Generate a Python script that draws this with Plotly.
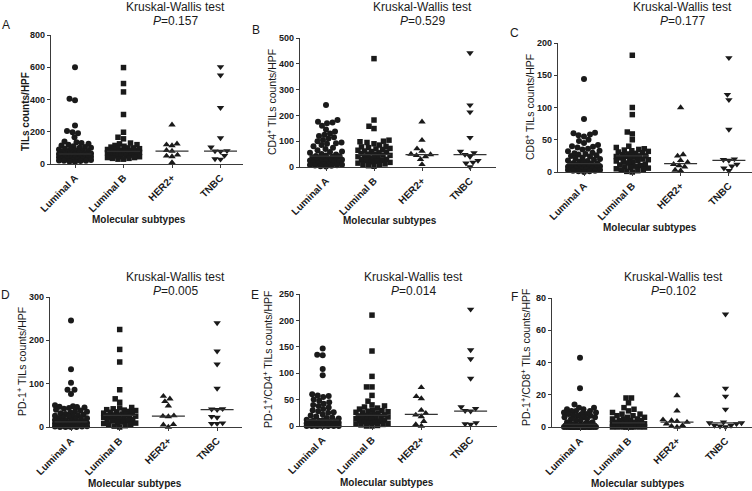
import numpy as np
import plotly.graph_objects as go

W, H = 752, 491
FONT = "Liberation Sans, Arial, sans-serif"

categories = ["Luminal A", "Luminal B", "HER2+", "TNBC"]
symbols = ["circle", "square", "triangle-up", "triangle-down"]
marker_sizes = [6, 5.5, 6.5, 6.5]

# ---------------- Panel A: TILs ----------------
A_luma = [600, 405, 395, 239, 204, 197, 191, 166, 139, 135, 130, 125, 120, 115, 110, 105, 100, 100, 95, 90,
          90, 85, 80, 80, 75, 75, 70, 70, 65, 65, 62, 60, 60, 58, 55, 55, 52, 50, 50, 48,
          45, 45, 42, 40, 40, 38, 35, 35, 32, 30, 30, 28, 25, 25, 22, 20, 20, 18, 15, 12]
A_lumb = [598, 499, 447, 307, 197, 166, 156, 130, 125, 120, 115, 110, 105, 100, 100, 95, 95, 90, 90, 85,
          85, 82, 80, 80, 78, 75, 75, 72, 70, 70, 65, 65, 60, 60, 55, 55, 50, 50, 45, 45, 40, 40, 35, 35, 30, 30]
A_her2 = [243, 125, 120, 114, 85, 80, 56, 50, 46, 10]
A_tnbc = [603, 551, 349, 162, 104, 82, 80, 78, 52, 31, 29]
A_med = [62, 79, 80, 80]

# ---------------- Panel B: CD4+ ----------------
B_luma = [240, 182, 175, 172, 170, 160, 145, 138, 130, 125, 120, 115, 110, 105, 100, 95, 92, 90, 85, 80,
          75, 70, 65, 60, 58, 55, 50, 48, 45, 43, 42, 40, 38, 36, 35, 32, 30, 28, 27, 25,
          24, 22, 20, 18, 16, 15, 14, 12, 10, 9, 8, 7, 6, 5, 3, 2]
B_lumb = [420, 182, 158, 149, 104, 100, 98, 95, 90, 85, 80, 78, 75, 72, 70, 68, 65, 62, 60, 58,
          55, 52, 50, 48, 46, 45, 42, 40, 38, 35, 32, 30, 28, 26, 25, 22, 20, 18, 15, 12, 10, 8, 5, 3]
B_her2 = [175, 104, 71, 62, 50, 48, 45, 40, 30, 10]
B_tnbc = [442, 240, 213, 114, 61, 55, 48, 40, 25, 18, 15, 0]
B_med = [42, 48, 48, 48]

# ---------------- Panel C: CD8+ ----------------
C_luma = [144, 82, 61, 60, 58, 57, 55, 50, 48, 45, 42, 40, 39, 38, 36, 35, 33, 32, 30, 29,
          28, 27, 26, 25, 24, 22, 21, 20, 19, 18, 17, 16, 15, 14, 13, 13, 12, 12, 11, 10,
          10, 9, 9, 8, 8, 7, 7, 6, 6, 5, 5, 4, 4, 3, 3, 2, 2, 1, 1, 0]
C_lumb = [181, 100, 89, 62, 59, 50, 40, 38, 36, 35, 34, 33, 32, 31, 30, 29, 28, 27, 26, 25,
          25, 24, 24, 23, 22, 21, 20, 19, 18, 17, 16, 15, 14, 12, 11, 10, 9, 8, 7, 6, 5, 4, 3, 2, 1, 0]
C_her2 = [100, 27, 25, 18, 15, 12, 10, 8, 3, 2]
C_tnbc = [177, 120, 112, 66, 20, 19, 18, 12, 9, 6, 2]
C_med = [13, 25, 13, 18]

# ---------------- Panel D: PD-1+ ----------------
D_luma = [246, 133, 102, 86, 86, 76, 50, 48, 47, 46, 45, 44, 42, 40, 38, 36, 35, 33, 32, 30,
          28, 27, 26, 25, 24, 22, 21, 20, 19, 18, 16, 15, 14, 13, 12, 12, 11, 10, 10, 9,
          9, 8, 8, 7, 6, 6, 5, 5, 4, 4, 3, 3, 2, 2, 1, 1, 0, 0, 0, 0]
D_lumb = [225, 179, 150, 86, 65, 57, 45, 44, 42, 40, 39, 38, 36, 35, 34, 33, 32, 30, 29, 28,
          27, 26, 25, 24, 23, 22, 21, 20, 18, 17, 16, 15, 14, 12, 10, 9, 8, 6, 5, 3, 2, 0]
D_her2 = [71, 65, 59, 49, 26, 25, 24, 6, 5, 0]
D_tnbc = [240, 175, 145, 89, 42, 41, 40, 24, 22, 9, 8, 8]
D_med = [12, 27, 25, 40]

# ---------------- Panel E: PD-1+/CD4+ ----------------
E_luma = [147, 135, 134, 108, 96, 60, 58, 57, 55, 50, 48, 45, 42, 40, 38, 35, 32, 30, 28, 26,
          25, 22, 20, 18, 16, 15, 14, 12, 11, 10, 10, 9, 8, 8, 7, 6, 6, 5, 5, 4,
          4, 3, 3, 2, 2, 2, 1, 1, 1, 0, 0, 0, 0, 0, 0, 0]
E_lumb = [210, 142, 94, 74, 74, 58, 47, 40, 38, 36, 34, 32, 30, 29, 28, 27, 26, 25, 24, 22,
          21, 20, 20, 19, 18, 17, 16, 15, 14, 13, 12, 11, 10, 9, 8, 7, 6, 5, 4, 3, 2, 1, 0, 0]
E_her2 = [73, 56, 52, 30, 24, 21, 18, 9, 3, 0]
E_tnbc = [221, 144, 127, 90, 36, 33, 29, 28, 6, 4, 3]
E_med = [11, 20, 22, 28]

# ---------------- Panel F: PD-1+/CD8+ ----------------
F_luma = [43, 24, 14, 12, 12, 11, 11, 10, 10, 10, 9, 9, 8, 8, 8, 7, 7, 7, 6, 6,
          6, 5, 5, 4, 4, 3, 3, 2, 2, 2, 1.5, 1, 1, 1, 1, 1, 1, 0.5, 0.5, 0.5,
          0, 0, 0, 0, 0, 0, 0, 0, 0, 0, 0, 0, 0, 0, 0, 0, 0, 0, 0, 0]
F_lumb = [18, 18, 15, 12, 11, 10, 9, 8, 8, 7, 7, 6, 6, 5, 5, 5, 4, 4, 4, 3,
          3, 3, 2, 2, 2, 2, 1, 1, 1, 1, 1, 1, 0.5, 0.5, 0.5, 0, 0, 0, 0, 0, 0, 0, 0, 0]
F_her2 = [19.5, 10, 4.5, 4, 3.5, 3, 2, 1, 0.5, 0]
F_tnbc = [70, 24, 19, 11, 3, 2.5, 2.5, 2, 1, 1, 0.5, 0]
F_med = [1.7, 2.5, 3, 2.5]

y_titles = ["<b>TILs counts/HPF</b>", "CD4<sup>+</sup> TILs counts/HPF", "CD8<sup>+</sup> TILs counts/HPF",
            "PD-1<sup>+</sup> TILs counts/HPF", "PD-1<sup>+</sup>/CD4<sup>+</sup> TILs counts/HPF",
            "PD-1<sup>+</sup>/CD8<sup>+</sup> TILs counts/HPF"]
p_values = ["0.157", "0.529", "0.177", "0.005", "0.014", "0.102"]
letters = ["A", "B", "C", "D", "E", "F"]
y_max = [800, 500, 200, 300, 250, 80]
y_dtick = [200, 100, 50, 100, 50, 20]
groups = [[A_luma, A_lumb, A_her2, A_tnbc], [B_luma, B_lumb, B_her2, B_tnbc],
          [C_luma, C_lumb, C_her2, C_tnbc], [D_luma, D_lumb, D_her2, D_tnbc],
          [E_luma, E_lumb, E_her2, E_tnbc], [F_luma, F_lumb, F_her2, F_tnbc]]
medians = [A_med, B_med, C_med, D_med, E_med, F_med]

# layout geometry in pixels: axis left, axis right, first category, spacing, y0, ytop
geom = [
    dict(xl=51, xr=243, c0=75, sp=48.5, y0=164, yt=35,
         kw=(175, 7, 21), let=(6, 25), ttl=(25, 112), xt=(139, 219)),
    dict(xl=300, xr=496, c0=326, sp=48, y0=167, yt=38,
         kw=(422, 7, 21), let=(256, 30), ttl=(272, 102), xt=(390, 220)),
    dict(xl=558, xr=752, c0=584, sp=48.3, y0=172, yt=43,
         kw=(682, 7, 21), let=(514, 33), ttl=(529, 107), xt=(650, 227)),
    dict(xl=50, xr=242, c0=71, sp=48.7, y0=427, yt=297,
         kw=(175, 277, 291), let=(6, 295), ttl=(21, 362), xt=(135, 483)),
    dict(xl=300, xr=497, c0=322.7, sp=49.3, y0=426, yt=294,
         kw=(413, 277, 291), let=(255, 295), ttl=(267, 360), xt=(387, 482)),
    dict(xl=552, xr=752, c0=580, sp=48.5, y0=427, yt=298,
         kw=(673, 277, 291), let=(514, 297), ttl=(525, 358), xt=(638, 483)),
]


def swarm(vals, ppu, sp, d=5.3, half=16.0):
    vals = np.asarray(vals, dtype=float)
    order = np.argsort(vals, kind="stable")
    cands = sorted(np.arange(-half, half + 0.01, 0.5), key=lambda c: (abs(c), c))
    placed = []
    offs = np.zeros(len(vals))
    for i in order:
        y = vals[i] * ppu
        best, bestd = 0.0, -1.0
        arr = np.array(placed) if placed else None
        for c in cands:
            md = np.inf if arr is None else np.min(np.hypot(arr[:, 0] - c, arr[:, 1] - y))
            if md >= d:
                best = c
                break
            if md > bestd:
                bestd, best = md, c
        placed.append((best, y))
        offs[i] = best / sp
    return offs


fig = go.Figure()
annotations = []
INK = "#1a1a1a"
AX = "#3a3a3a"

for k in range(6):
    g = geom[k]
    xa = "x" if k == 0 else f"x{k+1}"
    ya = "y" if k == 0 else f"y{k+1}"
    ppu = (g["y0"] - g["yt"]) / y_max[k]
    for ci, vals in enumerate(groups[k]):
        offs = swarm(vals, ppu, g["sp"])
        fig.add_trace(go.Scatter(
            x=ci + offs, y=vals, mode="markers", xaxis=xa, yaxis=ya,
            marker=dict(symbol=symbols[ci], size=marker_sizes[ci], color=INK, line=dict(width=0)),
            cliponaxis=False, showlegend=False, hoverinfo="y"))
        hw = 16.5 / g["sp"]
        fig.add_trace(go.Scatter(
            x=[ci - hw, ci + hw], y=[medians[k][ci]] * 2, mode="lines", xaxis=xa, yaxis=ya,
            line=dict(color="#333333", width=1.2), cliponaxis=False, showlegend=False, hoverinfo="skip"))

    xr0 = (g["xl"] - g["c0"]) / g["sp"]
    xr1 = (g["xr"] - g["c0"]) / g["sp"]
    xkey = "xaxis" if k == 0 else f"xaxis{k+1}"
    ykey = "yaxis" if k == 0 else f"yaxis{k+1}"
    fig.update_layout(**{
        xkey: dict(domain=[g["xl"] / W, g["xr"] / W], range=[xr0, xr1], anchor=ya,
                   tickvals=[0, 1, 2, 3], ticktext=categories, tickangle=-45,
                   tickfont=dict(family=FONT, size=10, color=INK, weight="bold"),
                   showline=True, linecolor=AX, linewidth=1.4, ticks="outside", ticklen=3,
                   tickwidth=1.2, tickcolor=AX, showgrid=False, zeroline=False, fixedrange=True,
                   automargin=False),
        ykey: dict(domain=[1 - g["y0"] / H, 1 - g["yt"] / H], range=[0, y_max[k]], anchor=xa,
                   tick0=0, dtick=y_dtick[k],
                   tickfont=dict(family=FONT, size=9, color=INK, weight="bold"),
                   showline=True, linecolor=AX, linewidth=1.4, ticks="outside", ticklen=3,
                   tickwidth=1.2, tickcolor=AX, showgrid=False, zeroline=False, fixedrange=True,
                   automargin=False),
    })

    kx, ky1, ky2 = g["kw"]
    annotations.append(dict(x=kx / W, y=1 - ky1 / H, xref="paper", yref="paper", showarrow=False,
                            text="Kruskal-Wallis test", font=dict(family=FONT, size=12, color=INK),
                            xanchor="center", yanchor="middle"))
    annotations.append(dict(x=kx / W, y=1 - ky2 / H, xref="paper", yref="paper", showarrow=False,
                            text=f"<i>P</i>={p_values[k]}", font=dict(family=FONT, size=12, color=INK),
                            xanchor="center", yanchor="middle"))
    lx, ly = g["let"]
    annotations.append(dict(x=lx / W, y=1 - ly / H, xref="paper", yref="paper", showarrow=False,
                            text=letters[k], font=dict(family=FONT, size=12, color=INK),
                            xanchor="center", yanchor="middle"))
    tx, ty = g["ttl"]
    annotations.append(dict(x=tx / W, y=1 - ty / H, xref="paper", yref="paper", showarrow=False,
                            text=y_titles[k], textangle=-90,
                            font=dict(family=FONT, size=10.5 if k else 10, color=INK),
                            xanchor="center", yanchor="middle"))
    mx, my = g["xt"]
    annotations.append(dict(x=mx / W, y=1 - my / H, xref="paper", yref="paper", showarrow=False,
                            text="<b>Molecular subtypes</b>", font=dict(family=FONT, size=10, color=INK),
                            xanchor="center", yanchor="middle"))

fig.update_layout(width=W, height=H, margin=dict(l=0, r=0, t=0, b=0, pad=0, autoexpand=False),
                  paper_bgcolor="white", plot_bgcolor="white", annotations=annotations,
                  font=dict(family=FONT, color=INK))

fig.write_html("out.html", config={"displayModeBar": False},
               post_script="document.body.style.margin='0';document.body.style.overflow='hidden';")
